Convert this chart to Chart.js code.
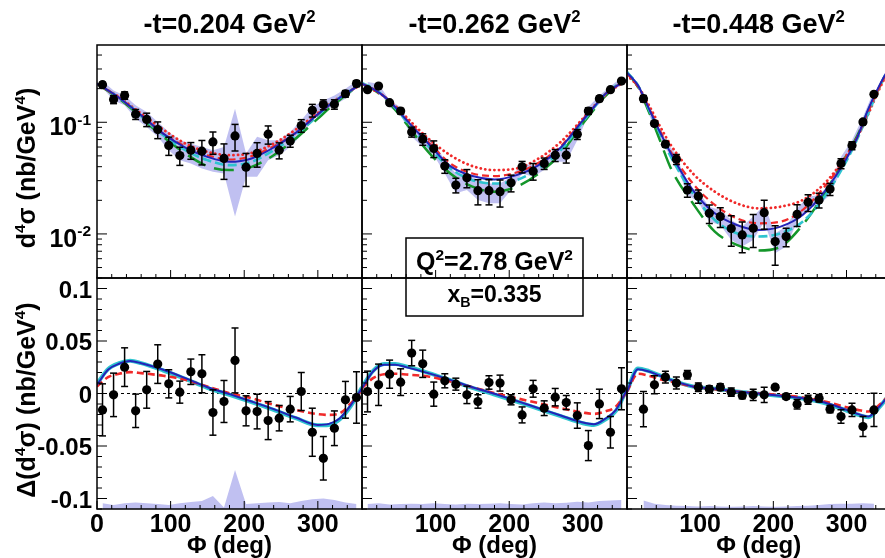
<!DOCTYPE html>
<html>
<head>
<meta charset="utf-8">
<script src="https://cdn.jsdelivr.net/npm/chart.js@4"></script>
<style>
  html, body { margin: 0; padding: 0; background: #fff; overflow: hidden; }
  #wrap { position: relative; width: 885px; height: 558px; overflow: hidden; }
  #wrap canvas { position: absolute; left: 0; top: 0; }
</style>
</head>
<body>
<div id="wrap"></div>
<script>
// ---- data ----
const PHI_BINS = [7.5, 22.5, 37.5, 52.5, 67.5, 82.5, 97.5, 112.5, 127.5, 142.5, 157.5, 172.5,
                  187.5, 202.5, 217.5, 232.5, 247.5, 262.5, 277.5, 292.5, 307.5, 322.5, 337.5, 352.5];
const PHI_CURVE = [0, 15, 30, 45, 60, 90, 120, 150, 180, 210, 240, 270, 300, 315, 330, 345, 360];
const ZERO_X = [0, 360];
const ZERO_Y = [0, 0];

const T_VALUES = ['0.204', '0.262', '0.448'];
const X_TICKS = [0, 100, 200, 300];
const LOG_TICKS = [0.1, 0.01];
const LOG_TICK_EXP = ['-1', '-2'];
const DIFF_TICKS = [0.1, 0.05, 0, -0.05, -0.1];
const DIFF_TICK_LABELS = ['0.1', '0.05', '0', '-0.05', '-0.1'];

// -t = 0.204, cross section
const cs1 = [0.217, 0.160, 0.174, 0.118, 0.106, 0.086, 0.062, 0.0504, 0.0562, 0.0551, 0.0667, 0.0474,
             0.0755, 0.0396, 0.0526, 0.0782, 0.0562, 0.0681, 0.0934, 0.128, 0.144, 0.145, 0.180, 0.222];
const csErr1 = [0.0112, 0.0132, 0.0132, 0.0121, 0.0146, 0.0147, 0.0115, 0.0093, 0.0096, 0.0136, 0.0151, 0.0166,
                0.0202, 0.0130, 0.0130, 0.0145, 0.0092, 0.0084, 0.0121, 0.0166, 0.0148, 0.0141, 0.0122, 0.0138];
const bandHi1 = [0.234, 0.193, 0.174, 0.1418, 0.1236, 0.1007, 0.082, 0.069, 0.0645, 0.0602, 0.0562, 0.0602,
                 0.1324, 0.0525, 0.074, 0.069, 0.069, 0.082, 0.1042, 0.137, 0.157, 0.174, 0.1995, 0.234];
const bandLo1 = [0.204, 0.157, 0.1418, 0.1078, 0.0908, 0.074, 0.0562, 0.0458, 0.0428, 0.0386, 0.036, 0.0348,
                 0.0143, 0.0325, 0.0325, 0.0458, 0.0507, 0.0602, 0.0766, 0.1042, 0.1236, 0.1418, 0.1627, 0.204];
const blue1 = [0.2214, 0.193, 0.166, 0.1389, 0.1155, 0.0792, 0.0594, 0.0490, 0.0442, 0.0474, 0.0594, 0.0803, 0.1179, 0.1418, 0.166, 0.193, 0.2214];
const redDash1 = [0.2214, 0.193, 0.166, 0.1389, 0.1155, 0.0792, 0.0610, 0.0507, 0.0464, 0.0497, 0.0610, 0.0803, 0.1179, 0.1418, 0.166, 0.193, 0.2214];
const redDot1 = [0.2184, 0.193, 0.1683, 0.1418, 0.1195, 0.086, 0.0645, 0.0543, 0.0507, 0.0532, 0.0645, 0.086, 0.1211, 0.1438, 0.1683, 0.193, 0.2184];
const cyan1 = [0.2214, 0.193, 0.166, 0.1389, 0.1132, 0.0766, 0.0562, 0.0458, 0.0413, 0.0442, 0.0562, 0.0766, 0.1147, 0.1418, 0.166, 0.193, 0.2214];
const green1 = [0.2214, 0.1905, 0.1627, 0.1351, 0.1100, 0.0740, 0.0525, 0.0405, 0.0373, 0.0399, 0.0507, 0.0715, 0.1078, 0.1324, 0.1593, 0.1905, 0.2214];

// -t = 0.262, cross section
const cs2 = [0.1957, 0.2111, 0.1498, 0.1262, 0.0820, 0.0705, 0.0582, 0.0405, 0.0274, 0.0318, 0.0244, 0.0244,
             0.0239, 0.0287, 0.0399, 0.0365, 0.0428, 0.0507, 0.0507, 0.0781, 0.1262, 0.1627, 0.1957, 0.234];
const csErr2 = [0.0080, 0.0087, 0.0052, 0.0070, 0.0084, 0.0083, 0.0099, 0.0056, 0.0041, 0.0059, 0.0062, 0.0062,
                0.0065, 0.0049, 0.0047, 0.0062, 0.0050, 0.0062, 0.0076, 0.0080, 0.0086, 0.0090, 0.0068, 0.0082];
const bandHi2 = [0.2291, 0.2214, 0.157, 0.137, 0.0908, 0.0792, 0.0667, 0.0458, 0.0348, 0.0348, 0.0303, 0.0283,
                 0.0283, 0.0325, 0.0428, 0.0413, 0.0474, 0.0582, 0.0602, 0.0878, 0.137, 0.174, 0.2097, 0.2505];
const bandLo2 = [0.1995, 0.193, 0.137, 0.1155, 0.074, 0.0602, 0.0507, 0.0348, 0.0231, 0.0247, 0.0201, 0.0188,
                 0.0188, 0.0247, 0.0348, 0.0325, 0.0373, 0.0442, 0.0442, 0.069, 0.1155, 0.1468, 0.1827, 0.2184];
const blue2 = [0.2214, 0.1995, 0.1706, 0.137, 0.1056, 0.0645, 0.0405, 0.0330, 0.0308, 0.0336, 0.0413, 0.0594, 0.1042, 0.137, 0.1778, 0.2097, 0.2371];
const redDot2 = [0.2184, 0.1957, 0.1706, 0.1408, 0.1116, 0.0715, 0.0507, 0.0405, 0.0373, 0.0386, 0.0474, 0.0667, 0.1078, 0.1389, 0.174, 0.2068, 0.234];
const redDash2 = [0.2214, 0.1995, 0.1706, 0.137, 0.1071, 0.0667, 0.0428, 0.0348, 0.0330, 0.0355, 0.0434, 0.0610, 0.1056, 0.137, 0.1778, 0.2097, 0.2371];
const cyan2 = [0.2245, 0.2025, 0.1706, 0.1351, 0.1028, 0.0610, 0.0386, 0.0303, 0.0283, 0.0303, 0.0386, 0.0562, 0.1007, 0.1351, 0.1778, 0.2126, 0.2404];
const green2 = [0.2214, 0.1970, 0.1660, 0.1297, 0.0973, 0.0543, 0.0348, 0.0265, 0.0239, 0.0265, 0.0348, 0.0525, 0.0973, 0.1297, 0.1706, 0.2068, 0.2371];

// -t = 0.448, cross section
const cs3 = [null, 0.1627, 0.0973, 0.0636, 0.0467, 0.0247, 0.0218, 0.0153, 0.0143, 0.01116, 0.0098, 0.01124,
             0.0155, 0.00854, 0.00947, 0.01498, 0.01918, 0.0201, 0.0252, 0.0428, 0.0619, 0.1007, 0.1778, null];
const csErr3 = [null, 0.0110, 0.0040, 0.0035, 0.0048, 0.0034, 0.0030, 0.0029, 0.0029, 0.0034, 0.0030, 0.0037,
                0.0045, 0.0033, 0.0018, 0.0033, 0.0033, 0.0030, 0.0031, 0.0044, 0.0051, 0.0041, 0.0062, null];
const bandHi3 = [null, 0.174, 0.1042, 0.069, 0.0507, 0.0274, 0.0239, 0.01754, 0.01638, 0.01334, 0.01163, 0.0143,
                 0.0182, 0.01014, 0.01163, 0.01695, 0.0215, 0.0223, 0.0283, 0.049, 0.069, 0.1116, 0.193, null];
const bandLo3 = [null, 0.152, 0.0908, 0.0582, 0.0428, 0.0223, 0.0194, 0.01288, 0.01203, 0.00884, 0.00771, 0.00884,
                 0.01288, 0.00672, 0.00771, 0.01288, 0.01695, 0.0182, 0.0223, 0.0373, 0.0543, 0.0908, 0.1627, null];
const blue3 = [0.2776, 0.2140, 0.1324, 0.0820, 0.0525, 0.0247, 0.01529, 0.01203, 0.01086, 0.01163, 0.01477, 0.0239, 0.0474, 0.0740, 0.1324, 0.2140, 0.3227];
const redDot3 = [0.2628, 0.2097, 0.1418, 0.0921, 0.0623, 0.0348, 0.0239, 0.0188, 0.01695, 0.01754, 0.0201, 0.0283, 0.0507, 0.0740, 0.1195, 0.1995, 0.3119];
const redDash3 = [0.2720, 0.2097, 0.1343, 0.0848, 0.0543, 0.0283, 0.0182, 0.01380, 0.01245, 0.01288, 0.01638, 0.0265, 0.0490, 0.0740, 0.1262, 0.2068, 0.3162];
const cyan3 = [0.2814, 0.2140, 0.1297, 0.0792, 0.0490, 0.0231, 0.01334, 0.01014, 0.00947, 0.01014, 0.01288, 0.0215, 0.0452, 0.0715, 0.1211, 0.2068, 0.3295];
const green3 = [0.2814, 0.2068, 0.1236, 0.069, 0.0386, 0.0188, 0.01049, 0.00798, 0.00710, 0.00771, 0.01203, 0.0231, 0.0507, 0.0766, 0.1279, 0.2068, 0.3295];

// difference panels
const diff1 = [-0.0156, -0.0013, 0.0251, -0.0165, 0.0035, 0.0280, 0.0092, 0.0013, 0.0207, 0.0188, -0.0181, -0.0076,
               0.0315, -0.0165, -0.0172, -0.0258, -0.0235, -0.0149, 0.0019, -0.0369, -0.0617, -0.0331, -0.0060, -0.0038];
const diffErr1 = [0.0248, 0.0207, 0.0184, 0.0159, 0.0175, 0.0184, 0.0134, 0.0105, 0.0121, 0.0181, 0.0216, 0.0200,
                  0.0309, 0.0143, 0.0165, 0.0181, 0.0121, 0.0121, 0.0181, 0.0229, 0.0207, 0.0165, 0.0175, 0.0245];
const sys1 = [-0.1046, -0.1062, -0.1046, -0.1037, -0.1046, -0.1053, -0.1062, -0.1046, -0.1034, -0.1024, -0.0976, -0.1085,
              -0.0729, -0.1053, -0.1046, -0.1037, -0.1034, -0.1046, -0.1024, -0.1008, -0.0999, -0.1015, -0.1037, -0.1053];
const dBlue1 = [0.0083, 0.0226, 0.0283, 0.0309, 0.0289, 0.0226, 0.0146, 0.0060, -0.0006, -0.0076, -0.0149, -0.0229, -0.0299, -0.0289, -0.0235, -0.0108, 0.0051];
const dCyan1 = [0.0092, 0.0232, 0.0289, 0.0312, 0.0289, 0.0219, 0.0140, 0.0054, -0.0013, -0.0083, -0.0156, -0.0235, -0.0302, -0.0299, -0.0245, -0.0118, 0.0060];
const dRed1 = [0.0067, 0.0156, 0.0188, 0.0204, 0.0194, 0.0169, 0.0130, 0.0067, 0.0003, -0.0045, -0.0108, -0.0156, -0.0197, -0.0204, -0.0188, -0.0092, 0.0035];

const diff2 = [0.0019, 0.0083, 0.0184, 0.0108, 0.0385, 0.0283, -0.0006, 0.0121, 0.0089, -0.0013, -0.0076, 0.0105,
               0.0099, -0.0060, -0.0204, 0.0045, -0.0140, -0.0035, -0.0086, -0.0210, -0.0496, -0.0099, -0.0369, 0.0045];
const diffErr2 = [0.0194, 0.0197, 0.0134, 0.0127, 0.0121, 0.0130, 0.0115, 0.0067, 0.0057, 0.0083, 0.0064, 0.0064,
                  0.0076, 0.0048, 0.0076, 0.0080, 0.0070, 0.0083, 0.0067, 0.0121, 0.0143, 0.0140, 0.0150, 0.0200];
const sys2 = [-0.1053, -0.1046, -0.1056, -0.1053, -0.1049, -0.1053, -0.1046, -0.1053, -0.1056, -0.1049, -0.1053, -0.1049,
              -0.1046, -0.1053, -0.1056, -0.1046, -0.1037, -0.1046, -0.1040, -0.1030, -0.1037, -0.1024, -0.1018, -0.1015];
const dBlue2 = [0.0051, 0.0210, 0.0274, 0.0274, 0.0251, 0.0194, 0.0130, 0.0060, -0.0003, -0.0070, -0.0140, -0.0210, -0.0277, -0.0293, -0.0242, -0.0156, 0.0035];
const dCyan2 = [0.0060, 0.0216, 0.0280, 0.0280, 0.0258, 0.0197, 0.0127, 0.0054, -0.0010, -0.0076, -0.0146, -0.0216, -0.0283, -0.0299, -0.0251, -0.0165, 0.0045];
const dRed2 = [0.0051, 0.0146, 0.0184, 0.0188, 0.0181, 0.0162, 0.0115, 0.0060, 0.0003, -0.0045, -0.0092, -0.0140, -0.0181, -0.0194, -0.0172, -0.0124, 0.0019];

const diff3 = [null, -0.0149, 0.0083, 0.0156, 0.0099, 0.0178, 0.0060, 0.0041, 0.0060, 0.0013, -0.0019, -0.0013,
               -0.0013, 0.0060, -0.0029, -0.0102, -0.0060, -0.0045, -0.0149, -0.0219, -0.0156, -0.0315, -0.0156, null];
const diffErr3 = [null, 0.0167, 0.0086, 0.0056, 0.0057, 0.0040, 0.0040, 0.0032, 0.0032, 0.0040, 0.0032, 0.0054,
                  0.0073, 0.0024, 0.0025, 0.0045, 0.0043, 0.0035, 0.0035, 0.0064, 0.0064, 0.0095, 0.0159, null];
const sys3 = [null, -0.1018, -0.1049, -0.1062, -0.1069, -0.1072, -0.1075, -0.1072, -0.1075, -0.1078, -0.1075, -0.1072,
              -0.1075, -0.1078, -0.1075, -0.1072, -0.1069, -0.1062, -0.1053, -0.1049, -0.1049, -0.1046, -0.1049, null];
const dBlue3 = [0.0019, 0.0232, 0.0210, 0.0169, 0.0130, 0.0067, 0.0045, 0.0019, 0.0000, -0.0022, -0.0045, -0.0086, -0.0156, -0.0194, -0.0219, -0.0124, 0.0003];
const dCyan3 = [0.0025, 0.0238, 0.0213, 0.0172, 0.0130, 0.0067, 0.0045, 0.0019, -0.0003, -0.0025, -0.0048, -0.0092, -0.0162, -0.0200, -0.0226, -0.0130, 0.0003];
const dRed3 = [0.0019, 0.0188, 0.0169, 0.0137, 0.0115, 0.0067, 0.0041, 0.0019, 0.0003, -0.0016, -0.0038, -0.0076, -0.0130, -0.0156, -0.0172, -0.0108, -0.0003];

// ---- layout ----
const W = 895, H = 558;
const COL_X = [97, 362, 627];
const PANEL_W = 265;
const ROW_Y = [45, 278, 509];
const FONT = '"Liberation Sans", Arial, Helvetica, sans-serif';
const BAND = 'rgba(176,176,238,0.8)';
const BLUE = '#2323b8', CYAN = '#2ec4cf', RED = '#f02a2a', GREEN = '#14962a';

function pts(xs, ys) {
  return xs.map((x, i) => ({ x: x, y: ys[i] }));
}

function curve(ys, color, width, dash, order) {
  return {
    data: pts(PHI_CURVE, ys), borderColor: color, borderWidth: width, borderDash: dash,
    borderCapStyle: dash.length && dash[0] < 3 ? 'round' : 'butt',
    pointRadius: 0, fill: false, cubicInterpolationMode: 'monotone', clip: 0, order: order
  };
}

// rich text with superscripts / subscripts
function rich(ctx, parts, x, y, size, align) {
  const items = parts.map(p => {
    const s = p[1] ? size * 0.62 : size;
    ctx.font = 'bold ' + s + 'px ' + FONT;
    return { t: p[0], k: p[1], s: s, w: ctx.measureText(p[0]).width };
  });
  const total = items.reduce((a, b) => a + b.w, 0);
  let cx = align === 'right' ? x - total : align === 'center' ? x - total / 2 : x;
  ctx.textAlign = 'left';
  ctx.textBaseline = 'alphabetic';
  ctx.fillStyle = '#000';
  items.forEach(it => {
    ctx.font = 'bold ' + it.s + 'px ' + FONT;
    const dy = it.k === 'sup' ? -size * 0.42 : it.k === 'sub' ? size * 0.22 : 0;
    ctx.fillText(it.t, cx, y + dy);
    cx += it.w;
  });
}

function seg(ctx, x1, y1, x2, y2) {
  ctx.beginPath(); ctx.moveTo(x1, y1); ctx.lineTo(x2, y2); ctx.stroke();
}

function panelPlugin(col, row, vals, errs) {
  return {
    id: 'panel' + col + row,
    afterDatasetsDraw(chart) {
      // error bars
      const ctx = chart.ctx, a = chart.chartArea, xs = chart.scales.x, ys = chart.scales.y;
      ctx.save();
      ctx.beginPath(); ctx.rect(a.left, a.top, a.right - a.left, a.bottom - a.top); ctx.clip();
      ctx.strokeStyle = '#000'; ctx.lineWidth = 1.5;
      vals.forEach((v, i) => {
        if (v === null) return;
        const x = xs.getPixelForValue(PHI_BINS[i]);
        const lo = row === 0 ? Math.max(v - errs[i], 1e-4) : v - errs[i];
        const y1 = ys.getPixelForValue(v + errs[i]), y2 = ys.getPixelForValue(lo);
        seg(ctx, x, y1, x, y2);
        seg(ctx, x - 3.5, y1, x + 3.5, y1);
        seg(ctx, x - 3.5, y2, x + 3.5, y2);
      });
      ctx.restore();
    },
    afterDraw(chart) {
      const ctx = chart.ctx, a = chart.chartArea, xs = chart.scales.x, ys = chart.scales.y;
      ctx.save();
      ctx.strokeStyle = '#000';
      ctx.lineWidth = 1;
      // x ticks (inward)
      for (let p = 0; p <= 360; p += 20) {
        const x = xs.getPixelForValue(p);
        seg(ctx, x, a.bottom, x, a.bottom - (p % 100 === 0 ? 8 : 4));
      }
      // y ticks (inward)
      if (row === 0) {
        for (let d = -3; d <= 0; d++) {
          for (let m = 1; m < 10; m++) {
            const v = m * Math.pow(10, d);
            if (v < ys.min || v > ys.max) continue;
            const y = ys.getPixelForValue(v);
            seg(ctx, a.left, y, a.left + (m === 1 ? 10 : 5), y);
          }
        }
      } else {
        for (let i = -11; i <= 11; i++) {
          const v = i / 100;
          if (v < ys.min || v > ys.max) continue;
          const y = ys.getPixelForValue(v);
          seg(ctx, a.left, y, a.left + (i % 5 === 0 ? 10 : 5), y);
        }
      }
      // frame
      ctx.lineWidth = 1.5;
      ctx.strokeRect(a.left, a.top, a.right - a.left, a.bottom - a.top);

      const cx = (a.left + a.right) / 2;
      if (row === 0) {
        rich(ctx, [['-t=' + T_VALUES[col] + ' GeV'], ['2', 'sup']], cx, 33, 27, 'center');
      } else {
        X_TICKS.forEach(p => {
          if (p === 0 && col > 0) return;
          rich(ctx, [[String(p)]], xs.getPixelForValue(p), 532, 25, 'center');
        });
        rich(ctx, [['\u03A6 (deg)']], cx, 553, 24, 'center');
      }
      if (col === 0) {
        if (row === 0) {
          LOG_TICKS.forEach((v, i) => {
            rich(ctx, [['10'], [LOG_TICK_EXP[i], 'sup']], a.left - 6, ys.getPixelForValue(v) + 13, 25, 'right');
          });
        } else {
          DIFF_TICKS.forEach((v, i) => {
            rich(ctx, [[DIFF_TICK_LABELS[i]]], a.left - 5, ys.getPixelForValue(v) + 9, 24, 'right');
          });
        }
        ctx.save();
        ctx.translate(35, row === 0 ? 168 : 400);
        ctx.rotate(-Math.PI / 2);
        if (row === 0) {
          rich(ctx, [['d'], ['4', 'sup'], ['\u03C3 (nb/GeV'], ['4', 'sup'], [')']], 0, 0, 25, 'center');
        } else {
          rich(ctx, [['\u0394(d'], ['4', 'sup'], ['\u03C3) (nb/GeV'], ['4', 'sup'], [')']], 0, 0, 25, 'center');
        }
        ctx.restore();
      }
      if (col === 1 && row === 1) {
        ctx.lineWidth = 1.5;
        ctx.strokeRect(406, 238, 177, 78);
        rich(ctx, [['Q'], ['2', 'sup'], ['=2.78 GeV'], ['2', 'sup']], 494.5, 270, 25, 'center');
        rich(ctx, [['x'], ['B', 'sub'], ['=0.335']], 494.5, 302, 23, 'center');
      }
      ctx.restore();
    }
  };
}

function makePanel(col, row, datasets, vals, errs) {
  const canvas = document.createElement('canvas');
  canvas.width = W; canvas.height = H;
  canvas.style.width = W + 'px'; canvas.style.height = H + 'px';
  document.getElementById('wrap').appendChild(canvas);
  const yScale = row === 0
    ? { type: 'logarithmic', min: 0.00403, max: 0.492, display: false }
    : { type: 'linear', min: -0.110, max: 0.110, display: false };
  return new Chart(canvas, {
    type: 'line',
    data: { datasets: datasets },
    options: {
      responsive: false,
      animation: false,
      events: [],
      layout: { padding: { left: COL_X[col], right: W - COL_X[col] - PANEL_W, top: ROW_Y[row], bottom: H - ROW_Y[row + 1] } },
      plugins: { legend: { display: false }, tooltip: { enabled: false } },
      scales: { x: { type: 'linear', min: 0, max: 360, display: false }, y: yScale }
    },
    plugins: [panelPlugin(col, row, vals, errs)]
  });
}

function pointSet(vals) {
  return { data: pts(PHI_BINS, vals), showLine: false, pointRadius: 4.6, pointBackgroundColor: '#000',
           pointBorderWidth: 0, order: 0 };
}

function topPanel(col, cs, err, hi, lo, blue, redDash, redDot, cyan, green) {
  makePanel(col, 0, [
    { data: pts(PHI_BINS, hi), borderColor: 'transparent', borderWidth: 1, pointRadius: 0, fill: false, clip: 0, order: 20 },
    { data: pts(PHI_BINS, lo), borderColor: 'transparent', borderWidth: 1, pointRadius: 0, fill: '-1', backgroundColor: BAND, clip: 0, order: 19 },
    curve(green, GREEN, 2.5, [20, 9], 6),
    curve(redDot, RED, 2.8, [0.1, 4.5], 5),
    curve(cyan, CYAN, 2.6, [9, 4], 4),
    curve(redDash, RED, 2.2, [7, 4], 3),
    curve(blue, BLUE, 2, [], 2),
    pointSet(cs)
  ], cs, err);
}

function bottomPanel(col, d, err, sys, blue, cyan, red) {
  makePanel(col, 1, [
    { data: pts(PHI_BINS, sys), borderColor: 'transparent', borderWidth: 1, pointRadius: 0, fill: 'start', backgroundColor: BAND, clip: 0, order: 20 },
    { data: pts(ZERO_X, ZERO_Y), borderColor: '#000', borderWidth: 1, borderDash: [3, 3], pointRadius: 0, fill: false, order: 10 },
    curve(cyan, CYAN, 4, [], 5),
    curve(red, RED, 2.6, [7, 4], 3),
    curve(blue, BLUE, 2, [], 2),
    pointSet(d)
  ], d, err);
}

topPanel(0, cs1, csErr1, bandHi1, bandLo1, blue1, redDash1, redDot1, cyan1, green1);
topPanel(1, cs2, csErr2, bandHi2, bandLo2, blue2, redDash2, redDot2, cyan2, green2);
topPanel(2, cs3, csErr3, bandHi3, bandLo3, blue3, redDash3, redDot3, cyan3, green3);
bottomPanel(0, diff1, diffErr1, sys1, dBlue1, dCyan1, dRed1);
bottomPanel(1, diff2, diffErr2, sys2, dBlue2, dCyan2, dRed2);
bottomPanel(2, diff3, diffErr3, sys3, dBlue3, dCyan3, dRed3);
</script>
</body>
</html>
